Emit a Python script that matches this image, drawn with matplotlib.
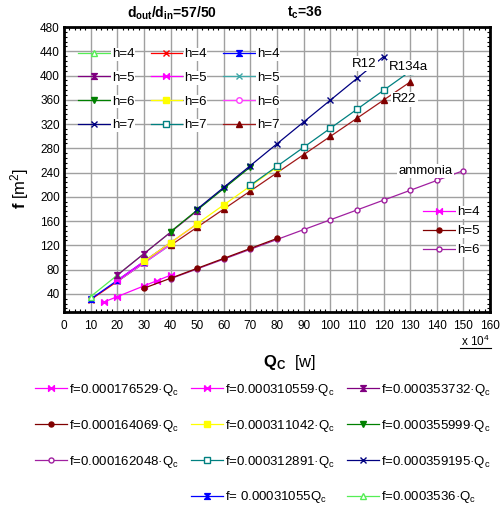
import matplotlib
matplotlib.use("Agg")
import matplotlib.pyplot as plt
from matplotlib.lines import Line2D
from matplotlib.ticker import MultipleLocator

plt.rcParams['font.family'] = ['Liberation Sans', 'DejaVu Sans']
plt.rcParams['mathtext.fontset'] = 'custom'
plt.rcParams['mathtext.rm'] = 'Liberation Sans'
plt.rcParams['mathtext.it'] = 'Liberation Sans'
plt.rcParams['mathtext.bf'] = 'Liberation Sans:bold'

# Condenser heat load Q_c in units of 10^4 W, heat-transfer area f in m^2
# R12
q_r12_h4 = [10, 20, 30, 40]
f_r12_h4 = [35.4, 70.7, 106.1, 141.4]
q_r12_h5 = [20, 30, 40, 50]
f_r12_h5 = [70.7, 106.1, 141.5, 176.9]
q_r12_h6 = [40, 50, 60, 70]
f_r12_h6 = [142.4, 178.0, 213.6, 249.2]
q_r12_h7 = [50, 60, 70, 80, 90, 100, 110, 120]
f_r12_h7 = [179.6, 215.5, 251.4, 287.4, 323.3, 359.2, 395.1, 431.0]
# R134a
q_r134a_h4 = [10, 20, 30, 40]
f_r134a_h4 = [31.1, 62.1, 93.2, 124.2]
q_r134a_h5 = [20, 30, 40, 50]
f_r134a_h5 = [62.1, 93.2, 124.2, 155.3]
q_r134a_h6 = [30, 40, 50, 60, 70, 80]
f_r134a_h6 = [93.3, 124.4, 155.5, 186.6, 217.7, 248.8]
q_r134a_h7 = [70, 80, 90, 100, 110, 120, 130]
f_r134a_h7 = [219.0, 250.3, 281.6, 312.9, 344.2, 375.5, 406.8]
# R22
q_r22_h4 = [10, 20, 30]
f_r22_h4 = [30.2, 60.3, 90.5]
q_r22_h5 = [20, 30, 40]
f_r22_h5 = [60.4, 90.6, 120.8]
q_r22_h6 = [20, 30, 40]
f_r22_h6 = [60.5, 90.7, 121.0]
q_r22_h7 = [40, 50, 60, 70, 80, 90, 100, 110, 120, 130]
f_r22_h7 = [119.8, 149.8, 179.7, 209.6, 239.6, 269.5, 299.5, 329.4, 359.4, 389.3]
# ammonia
q_nh3_h4 = [15, 20, 30, 35, 40]
f_nh3_h4 = [26.5, 35.3, 53.0, 61.8, 70.6]
q_nh3_h5 = [30, 40, 50, 60, 70, 80]
f_nh3_h5 = [49.2, 65.6, 82.0, 98.4, 114.8, 131.3]
q_nh3_h6 = [40, 50, 60, 70, 80, 90, 100, 110, 120, 130, 140, 150]
f_nh3_h6 = [64.8, 81.0, 97.2, 113.4, 129.6, 145.8, 162.0, 178.2, 194.4, 210.6, 226.9, 243.1]

x_ticks = list(range(0, 161, 10))
y_ticks = list(range(40, 481, 40))
curve_labels = ["R12", "R134a", "R22", "ammonia"]

hourglass = [(-1, 1), (1, 1), (-1, -1), (1, -1), (-1, 1)]
bowtie = [(-1, 1), (1, -1), (1, 1), (-1, -1), (-1, 1)]

fig = plt.figure(figsize=(5.0, 5.05), dpi=100)
ax = fig.add_axes([64 / 500, 1 - 312 / 505, 426 / 500, 285 / 505])

lw = 0.9
def draw(q, f, color, marker, ms=4.0, mfc=None, mec=None):
    line, = ax.plot(q, f, color=color, lw=lw, marker=marker, ms=ms,
                    mfc=color if mfc is None else mfc,
                    mec=color if mec is None else mec, mew=1.0, zorder=3)
    return line

WHITE = 'white'
# ammonia
a4 = draw(q_nh3_h4, f_nh3_h4, '#ff00ff', bowtie, ms=4.2)
a6 = draw(q_nh3_h6, f_nh3_h6, '#a020a0', 'o', ms=3.6, mfc=WHITE)
a5 = draw(q_nh3_h5, f_nh3_h5, '#800000', 'o', ms=3.6)
# R22
r22_4 = draw(q_r22_h4, f_r22_h4, '#ff0000', 'x', ms=4.2)
r22_5 = draw(q_r22_h5, f_r22_h5, '#40a8a8', 'x', ms=4.2)
r22_6 = draw(q_r22_h6, f_r22_h6, '#ff40ff', 'o', ms=4.0, mfc=WHITE)
r22_7 = draw(q_r22_h7, f_r22_h7, '#a01818', '^', ms=4.4, mfc='#800000', mec='#800000')
# R134a
r134_4 = draw(q_r134a_h4, f_r134a_h4, '#0000ff', hourglass, ms=4.2)
r134_5 = draw(q_r134a_h5, f_r134a_h5, '#ff00ff', bowtie, ms=4.2)
r134_6 = draw(q_r134a_h6, f_r134a_h6, '#ffff00', 's', ms=4.6)
r134_7 = draw(q_r134a_h7, f_r134a_h7, '#008080', 's', ms=4.4, mfc=WHITE)
# R12
r12_4 = draw(q_r12_h4, f_r12_h4, '#55ee55', '^', ms=4.4, mfc=WHITE)
r12_5 = draw(q_r12_h5, f_r12_h5, '#800080', hourglass, ms=4.2)
r12_6 = draw(q_r12_h6, f_r12_h6, '#008000', 'v', ms=4.4)
r12_7 = draw(q_r12_h7, f_r12_h7, '#000080', 'x', ms=4.2)

ax.set_xlim(0, 160)
ax.set_ylim(10, 480)
ax.set_xticks(x_ticks)
ax.set_yticks(y_ticks)
ax.xaxis.set_minor_locator(MultipleLocator(2))
ax.yaxis.set_minor_locator(MultipleLocator(8))
ax.grid(True, which='major', color='#a0a0a0', lw=1.0, zorder=0)
ax.set_axisbelow(True)
ax.tick_params(axis='x', which='major', length=0, pad=6, labelsize=8.5)
ax.tick_params(axis='y', which='major', length=0, pad=3, labelsize=8.5)
ax.tick_params(which='minor', direction='in', length=2.5, width=0.8,
               top=True, right=True, bottom=True, left=True)
for s in ax.spines.values():
    s.set_linewidth(2.0)

# curve names
lbl_box = dict(facecolor='white', edgecolor='none', pad=1.0)
ax.text(112.9, 419.3, curve_labels[0], fontsize=9.5, ha='center', va='center', bbox=lbl_box, zorder=4)
ax.text(129.2, 413.8, curve_labels[1], fontsize=9.5, ha='center', va='center', bbox=lbl_box, zorder=4)
ax.text(127.9, 360.9, curve_labels[2], fontsize=9.5, ha='center', va='center', bbox=lbl_box, zorder=4)
ax.text(135.7, 242.6, curve_labels[3], fontsize=9.5, ha='center', va='center', bbox=lbl_box, zorder=4)

def whiten(leg):
    for t in leg.get_texts():
        t.set_bbox(dict(facecolor='white', edgecolor='none', pad=0.5))

# legend of h values for the refrigerants
top_handles = [r12_4, r12_5, r12_6, r12_7,
               r22_4, r134_5, r134_6, r134_7,
               r134_4, r22_5, r22_6, r22_7]
top_labels = ['h=4', 'h=5', 'h=6', 'h=7'] * 3
leg1 = ax.legend(top_handles, top_labels, ncol=3, loc='upper left',
                 bbox_to_anchor=(78 / 500, 1 - 48 / 505), bbox_transform=fig.transFigure,
                 frameon=False, fontsize=9.5, handlelength=2.4, handletextpad=0.15,
                 columnspacing=1.25, labelspacing=0.87, borderpad=0, borderaxespad=0)
whiten(leg1)
ax.add_artist(leg1)

# legend of h values for ammonia
leg2 = ax.legend([a4, a5, a6], ['h=4', 'h=5', 'h=6'], loc='upper left',
                 bbox_to_anchor=(423 / 500, 1 - 206 / 505), bbox_transform=fig.transFigure,
                 frameon=False, fontsize=9.5, handlelength=2.4, handletextpad=0.15,
                 labelspacing=0.52, borderpad=0, borderaxespad=0)
whiten(leg2)

# fitted relations
blank = Line2D([], [], color='none')
fit_handles = [a4, a5, a6, blank,
               r134_5, r134_6, r134_7, r134_4,
               r12_5, r12_6, r12_7, r12_4]
fit_labels = ['f=0.000176529·Q$_c$', 'f=0.000164069·Q$_c$', 'f=0.000162048·Q$_c$', '',
              'f=0.000310559·Q$_c$', 'f=0.000311042·Q$_c$', 'f=0.000312891·Q$_c$', 'f= 0.00031055Q$_c$',
              'f=0.000353732·Q$_c$', 'f=0.000355999·Q$_c$', 'f=0.000359195·Q$_c$', 'f=0.0003536·Q$_c$']
fig.legend(fit_handles, fit_labels, ncol=3, loc='upper left',
           bbox_to_anchor=(35 / 500, 1 - 382 / 505),
           frameon=False, fontsize=9.5, handlelength=2.4, handletextpad=0.15,
           columnspacing=0.95, labelspacing=1.5, borderpad=0, borderaxespad=0)

# titles and axis labels
fig.text(172 / 500, 1 - 13 / 505, r'$\mathbf{d_{out}/d_{in}}$=57/50', fontsize=10,
         fontweight='bold', ha='center', va='center')
fig.text(305 / 500, 1 - 13 / 505, r'$\mathbf{t_c}$=36', fontsize=10, fontweight='bold',
         ha='center', va='center')
fig.text(290 / 500, 1 - 362 / 505, r'$\mathbf{Q_C}$  [w]', fontsize=12, ha='center', va='center')
fig.text(20 / 500, 1 - 188 / 505, r'$\mathbf{f}$ [m$^2$]', fontsize=12, ha='center', va='center',
         rotation=90)
fig.text(475 / 500, 1 - 341 / 505, r'x 10$^4$', fontsize=8.5, ha='center', va='center')
fig.add_artist(Line2D([460 / 500, 491 / 500], [1 - 348 / 505, 1 - 348 / 505],
                      color='black', lw=0.8, transform=fig.transFigure))

fig.savefig('out.png', dpi=100)
